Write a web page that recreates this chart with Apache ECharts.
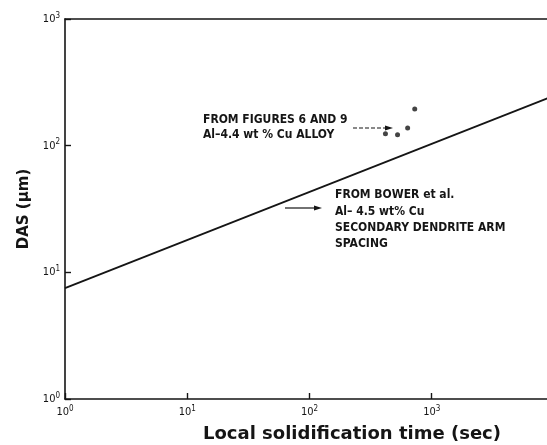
<!DOCTYPE html>
<html><head><meta charset="utf-8">
<script src="https://cdn.jsdelivr.net/npm/echarts@6/dist/echarts.min.js"></script>
<style>html,body{margin:0;padding:0;background:#fff}#c{width:547px;height:445px}</style>
</head><body><div id="c"></div>
<script>
// Bower et al. correlation line (time s, DAS µm)
var lineTime = [1, 10000];
var lineDAS = [7.5, 248];
// Measured points, Figures 6 and 9
var ptTime = [418, 525, 635, 726];
var ptDAS = [124, 122, 138, 195];
var xTicks = ['0', '1', '2', '3'];
var yTicks = ['0', '1', '2', '3'];

var ink = '#151515';
var chart = echarts.init(document.getElementById('c'), null, {renderer: 'canvas'});
var supRich = {
  b: {fontFamily: 'DejaVu Sans Condensed', fontSize: 11, color: ink},
  s: {fontFamily: 'DejaVu Sans Condensed', fontSize: 8, color: ink, verticalAlign: 'bottom', padding: [0, 0, 7, 0]}
};
function expLabel(v) {
  var e = Math.round(Math.log10(v));
  return '{b|10}{s|' + e + '}';
}
chart.setOption({
  animation: false,
  grid: {left: 65, top: 19, width: 489, height: 380, containLabel: false, outerBoundsMode: 'none'},
  xAxis: [{
    type: 'log', min: 1, max: 10000, logBase: 10,
    axisLine: {show: true, onZero: false, lineStyle: {color: ink, width: 1.6}},
    axisTick: {show: true, inside: true, length: 6, lineStyle: {color: ink, width: 1.4}},
    splitLine: {show: false},
    minorTick: {show: false},
    axisLabel: {formatter: expLabel, rich: supRich, margin: 6, showMaxLabel: false}
  }, {
    type: 'log', min: 1, max: 10000, position: 'top',
    axisLine: {show: true, lineStyle: {color: ink, width: 1.6}},
    axisTick: {show: false}, axisLabel: {show: false}, splitLine: {show: false}
  }],
  yAxis: {
    type: 'log', min: 1, max: 1000, logBase: 10,
    axisLine: {show: true, onZero: false, lineStyle: {color: ink, width: 1.6}},
    axisTick: {show: true, inside: true, length: 6, lineStyle: {color: ink, width: 1.4}},
    splitLine: {show: false},
    axisLabel: {formatter: expLabel, rich: supRich, margin: 5},
    name: 'DAS (\u00b5m)', nameLocation: 'middle', nameGap: 32, nameRotate: 90,
    nameTextStyle: {fontFamily: 'DejaVu Sans', fontWeight: 'bold', fontSize: 15, color: ink}
  },
  series: [{
    type: 'line', data: lineTime.map(function (t, i) { return [t, lineDAS[i]]; }),
    showSymbol: false, lineStyle: {color: ink, width: 1.8}, clip: true
  }, {
    type: 'scatter', data: ptTime.map(function (t, i) { return [t, ptDAS[i]]; }),
    symbol: 'circle', symbolSize: 5, itemStyle: {color: ink}
  }],
  graphic: [
    {type: 'text', x: 352, y: 434, style: {text: 'Local solidification time (sec)', fontFamily: 'DejaVu Sans', fontWeight: 'bold', fontSize: 18, fill: ink, align: 'center', verticalAlign: 'middle'}},
    {type: 'text', left: 203, top: 113, style: {text: 'FROM FIGURES 6 AND 9\nAl\u20134.4 wt % Cu ALLOY', fontFamily: 'DejaVu Sans Condensed', fontWeight: 'bold', fontSize: 12, lineHeight: 14.5, fill: ink}},
    {type: 'line', shape: {x1: 353, y1: 128, x2: 387, y2: 128}, style: {stroke: ink, lineWidth: 1.2, lineDash: [4, 2]}},
    {type: 'polygon', shape: {points: [[393, 128], [385, 125.5], [385, 130.5]]}, style: {fill: ink}},
    {type: 'text', left: 335, top: 187, style: {text: 'FROM BOWER et al.\nAl\u2013 4.5 wt% Cu\nSECONDARY DENDRITE ARM\nSPACING', fontFamily: 'DejaVu Sans Condensed', fontWeight: 'bold', fontSize: 12, lineHeight: 16.3, fill: ink}},
    {type: 'line', shape: {x1: 285, y1: 208, x2: 316, y2: 208}, style: {stroke: ink, lineWidth: 1.2}},
    {type: 'polygon', shape: {points: [[322, 208], [314, 205.5], [314, 210.5]]}, style: {fill: ink}}
  ]
});
</script></body></html>
